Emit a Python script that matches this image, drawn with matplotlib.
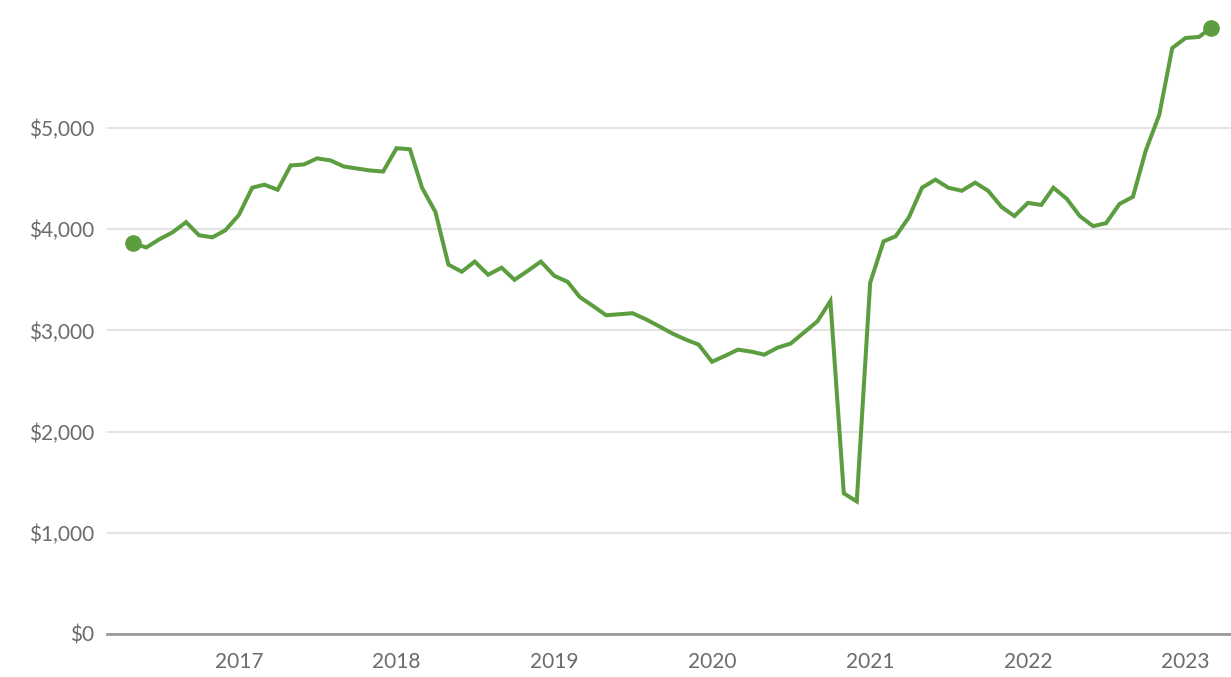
import matplotlib.pyplot as plt
import matplotlib.dates as mdates
import matplotlib.ticker as mticker
import pandas as pd

# monthly values, May 2016 .. Mar 2023
values = [3860, 3820, 3900, 3970, 4070, 3940, 3920, 3990, 4140, 4410,
          4440, 4390, 4630, 4640, 4700, 4680, 4620, 4600, 4580, 4570,
          4800, 4790, 4410, 4170, 3650, 3580, 3680, 3550, 3620, 3500,
          3590, 3680, 3540, 3480, 3330, 3240, 3150, 3160, 3170, 3110,
          3040, 2970, 2910, 2860, 2690, 2750, 2810, 2790, 2760, 2830,
          2870, 2980, 3090, 3290, 1390, 1310, 3470, 3880, 3930, 4120,
          4410, 4490, 4410, 4380, 4460, 4380, 4220, 4130, 4260, 4240,
          4410, 4300, 4130, 4030, 4060, 4250, 4320, 4780, 5130, 5790,
          5890, 5900, 5990]
dates = pd.date_range('2016-05-01', periods=len(values), freq='MS')
y_ticks = [0, 1000, 2000, 3000, 4000, 5000]
years = list(range(2017, 2024))

green = '#5c9e3f'
fig = plt.figure(figsize=(12.31, 6.77), dpi=100)
ax = fig.add_axes([107 / 1231, 43 / 677, 1 - 107 / 1231, 634 / 677])

ax.plot(dates, values, color=green, linewidth=2.9, solid_joinstyle='miter', zorder=3)
ax.plot([dates[0], dates[-1]], [values[0], values[-1]], 'o', color=green,
        markersize=11, zorder=4)

ax.set_ylim(0, 6265)
ax.set_xlim(dates[0] - pd.Timedelta(days=60), dates[-1] + pd.Timedelta(days=46))

ax.set_yticks(y_ticks)
ax.yaxis.set_major_formatter(mticker.FuncFormatter(lambda v, p: f'${int(v):,}'))
ax.set_xticks([pd.Timestamp(f'{y}-01-01') for y in years])
ax.xaxis.set_major_formatter(mdates.DateFormatter('%Y'))

ax.tick_params(axis='both', length=0, labelsize=15, labelcolor='#6b6b6b')
ax.tick_params(axis='y', pad=9)
ax.tick_params(axis='x', pad=13)
for lab in ax.get_xticklabels() + ax.get_yticklabels():
    lab.set_family('Lato')

ax.grid(axis='y', color='#e3e3e3', linewidth=1.5)
ax.set_axisbelow(True)
for s in ['top', 'right', 'left']:
    ax.spines[s].set_visible(False)
ax.spines['bottom'].set_color('#9a9a9a')
ax.spines['bottom'].set_linewidth(2)
ax.spines['bottom'].set_zorder(2)

fig.savefig('out.png', dpi=100)
